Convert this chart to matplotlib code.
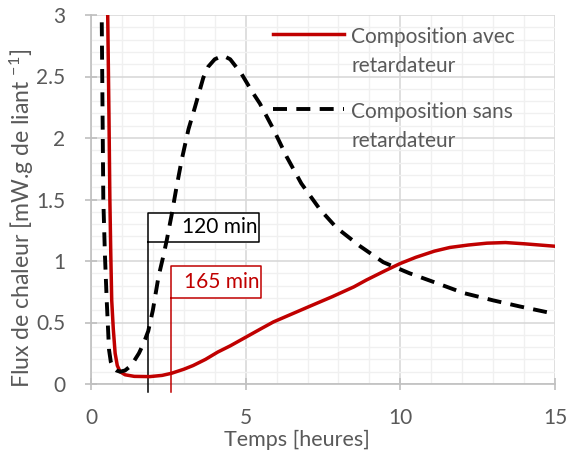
import matplotlib
matplotlib.use('Agg')
import matplotlib.pyplot as plt
from matplotlib.ticker import MultipleLocator

plt.rcParams['font.family'] = ['Lato', 'DejaVu Sans']
plt.rcParams['mathtext.default'] = 'regular'

GRAY = '#595959'
RED = '#C00000'

# Composition avec retardateur
x_avec = [0.50, 0.54, 0.58, 0.61, 0.64, 0.67, 0.72, 0.78, 0.85, 0.94, 1.1, 1.4,
          1.9, 2.3, 2.6, 3.0, 3.3, 3.7, 4.1, 4.5, 5.0, 5.5, 5.9, 6.5, 7.1, 7.8,
          8.5, 8.9, 9.5, 10.0, 10.5, 11.1, 11.6, 12.2, 12.8, 13.4, 14.0, 14.5, 15.0]
y_avec = [3.4, 3.0, 2.2, 1.5, 1.05, 0.68, 0.45, 0.25, 0.15, 0.10, 0.075, 0.062,
          0.06, 0.07, 0.087, 0.12, 0.15, 0.2, 0.26, 0.31, 0.38, 0.45, 0.505, 0.57, 0.635, 0.71,
          0.79, 0.845, 0.92, 0.98, 1.03, 1.08, 1.11, 1.13, 1.145, 1.15, 1.14, 1.13, 1.12]

# Composition sans retardateur
x_sans = [0.30, 0.346, 0.372, 0.398, 0.45, 0.508, 0.582, 0.64, 0.72, 0.82, 0.94, 1.1,
          1.25, 1.4, 1.55, 1.7, 1.85, 2.0, 2.18, 2.32, 2.45, 2.61, 2.75, 2.93, 3.15,
          3.36, 3.63, 3.79, 4.0, 4.27, 4.5, 4.87, 5.2, 5.46, 5.9, 6.32, 6.8, 7.4,
          7.94, 8.7, 9.45, 10.3, 11.18, 12.04, 13.0, 13.87, 15.0]
y_sans = [3.5, 3.0, 2.25, 1.5, 1.05, 0.68, 0.28, 0.18, 0.13, 0.11, 0.10, 0.11,
          0.14, 0.19, 0.25, 0.33, 0.43, 0.6, 0.87, 1.02, 1.17, 1.38, 1.58, 1.82, 2.07,
          2.25, 2.49, 2.58, 2.64, 2.67, 2.64, 2.52, 2.38, 2.28, 2.07, 1.85, 1.63, 1.42,
          1.27, 1.12, 0.99, 0.9, 0.82, 0.74, 0.68, 0.63, 0.57]

# callouts (debut de prise)
call_x = [1.83, 2.58]
call_text = ['120 min', '165 min']
call_top = [1.39, 0.96]
call_bot = [1.155, 0.70]
call_right = [5.43, 5.5]
call_col = ['black', RED]

fig = plt.figure(figsize=(5.71, 4.5), dpi=100)
ax = fig.add_axes([91/571, 1-384/450, 464/571, 369/450])

ax.plot(x_avec, y_avec, color=RED, lw=2.5, zorder=4,
        label='Composition avec\nretardateur')
ax.plot(x_sans, y_sans, color='black', lw=2.8, dashes=(3.6, 2.4), zorder=4,
        label='Composition sans\nretardateur')

for cx, t, top, bot, r, c in zip(call_x, call_text, call_top, call_bot, call_right, call_col):
    ax.fill([cx, r, r, cx], [top, top, bot, bot], color='white', zorder=2)
    ax.plot([cx, cx, r, r, cx], [-0.065, top, top, bot, bot], color=c, lw=1.1,
            zorder=3, clip_on=False)
    ax.text(r - 0.05, (top + bot) / 2, t, color=c, fontsize=15, ha='right',
            va='center', zorder=3)

ax.set_xlim(0, 15)
ax.set_ylim(0, 3)
ax.xaxis.set_major_locator(MultipleLocator(5))
ax.xaxis.set_minor_locator(MultipleLocator(1))
ax.yaxis.set_major_locator(MultipleLocator(0.5))
ax.yaxis.set_minor_locator(MultipleLocator(0.1))
ax.set_yticks([0, 0.5, 1, 1.5, 2, 2.5, 3], ['0', '0.5', '1', '1.5', '2', '2.5', '3'])

ax.grid(which='major', color='#d9d9d9', lw=1.2, zorder=0)
ax.grid(which='minor', color='#f0f0f0', lw=1.0, zorder=0)
ax.set_axisbelow(True)

for s in ['top', 'right']:
    ax.spines[s].set_visible(False)
for s in ['left', 'bottom']:
    ax.spines[s].set_color('#bfbfbf')
    ax.spines[s].set_linewidth(1.2)

ax.tick_params(which='major', direction='inout', length=9, width=1.2,
               color='#bfbfbf', labelcolor=GRAY, labelsize=15)
ax.tick_params(axis='x', which='major', pad=13)
ax.tick_params(axis='y', which='major', pad=14)
ax.tick_params(which='minor', length=0)

ax.set_xlabel('Temps [heures]', fontsize=15.5, color=GRAY)
ax.xaxis.set_label_coords(0.444, -0.123)
ax.set_ylabel('Flux de chaleur [mW.g de liant $^{-1}$]', fontsize=16.6, color=GRAY)
ax.yaxis.set_label_coords(-0.118, 0.45)

leg = ax.legend(loc='upper left', bbox_to_anchor=(0.392, 0.967), frameon=False,
                fontsize=15, handlelength=3.4, handletextpad=0.35,
                borderpad=0, borderaxespad=0, labelspacing=1.25, labelcolor=GRAY)
for t in leg.get_texts():
    t.set_linespacing(1.55)
# handle next to the first line of each label
for col in leg._legend_handle_box.get_children():
    for hp in col.get_children():
        hp.align = 'top'

fig.savefig('out.png', dpi=100)
